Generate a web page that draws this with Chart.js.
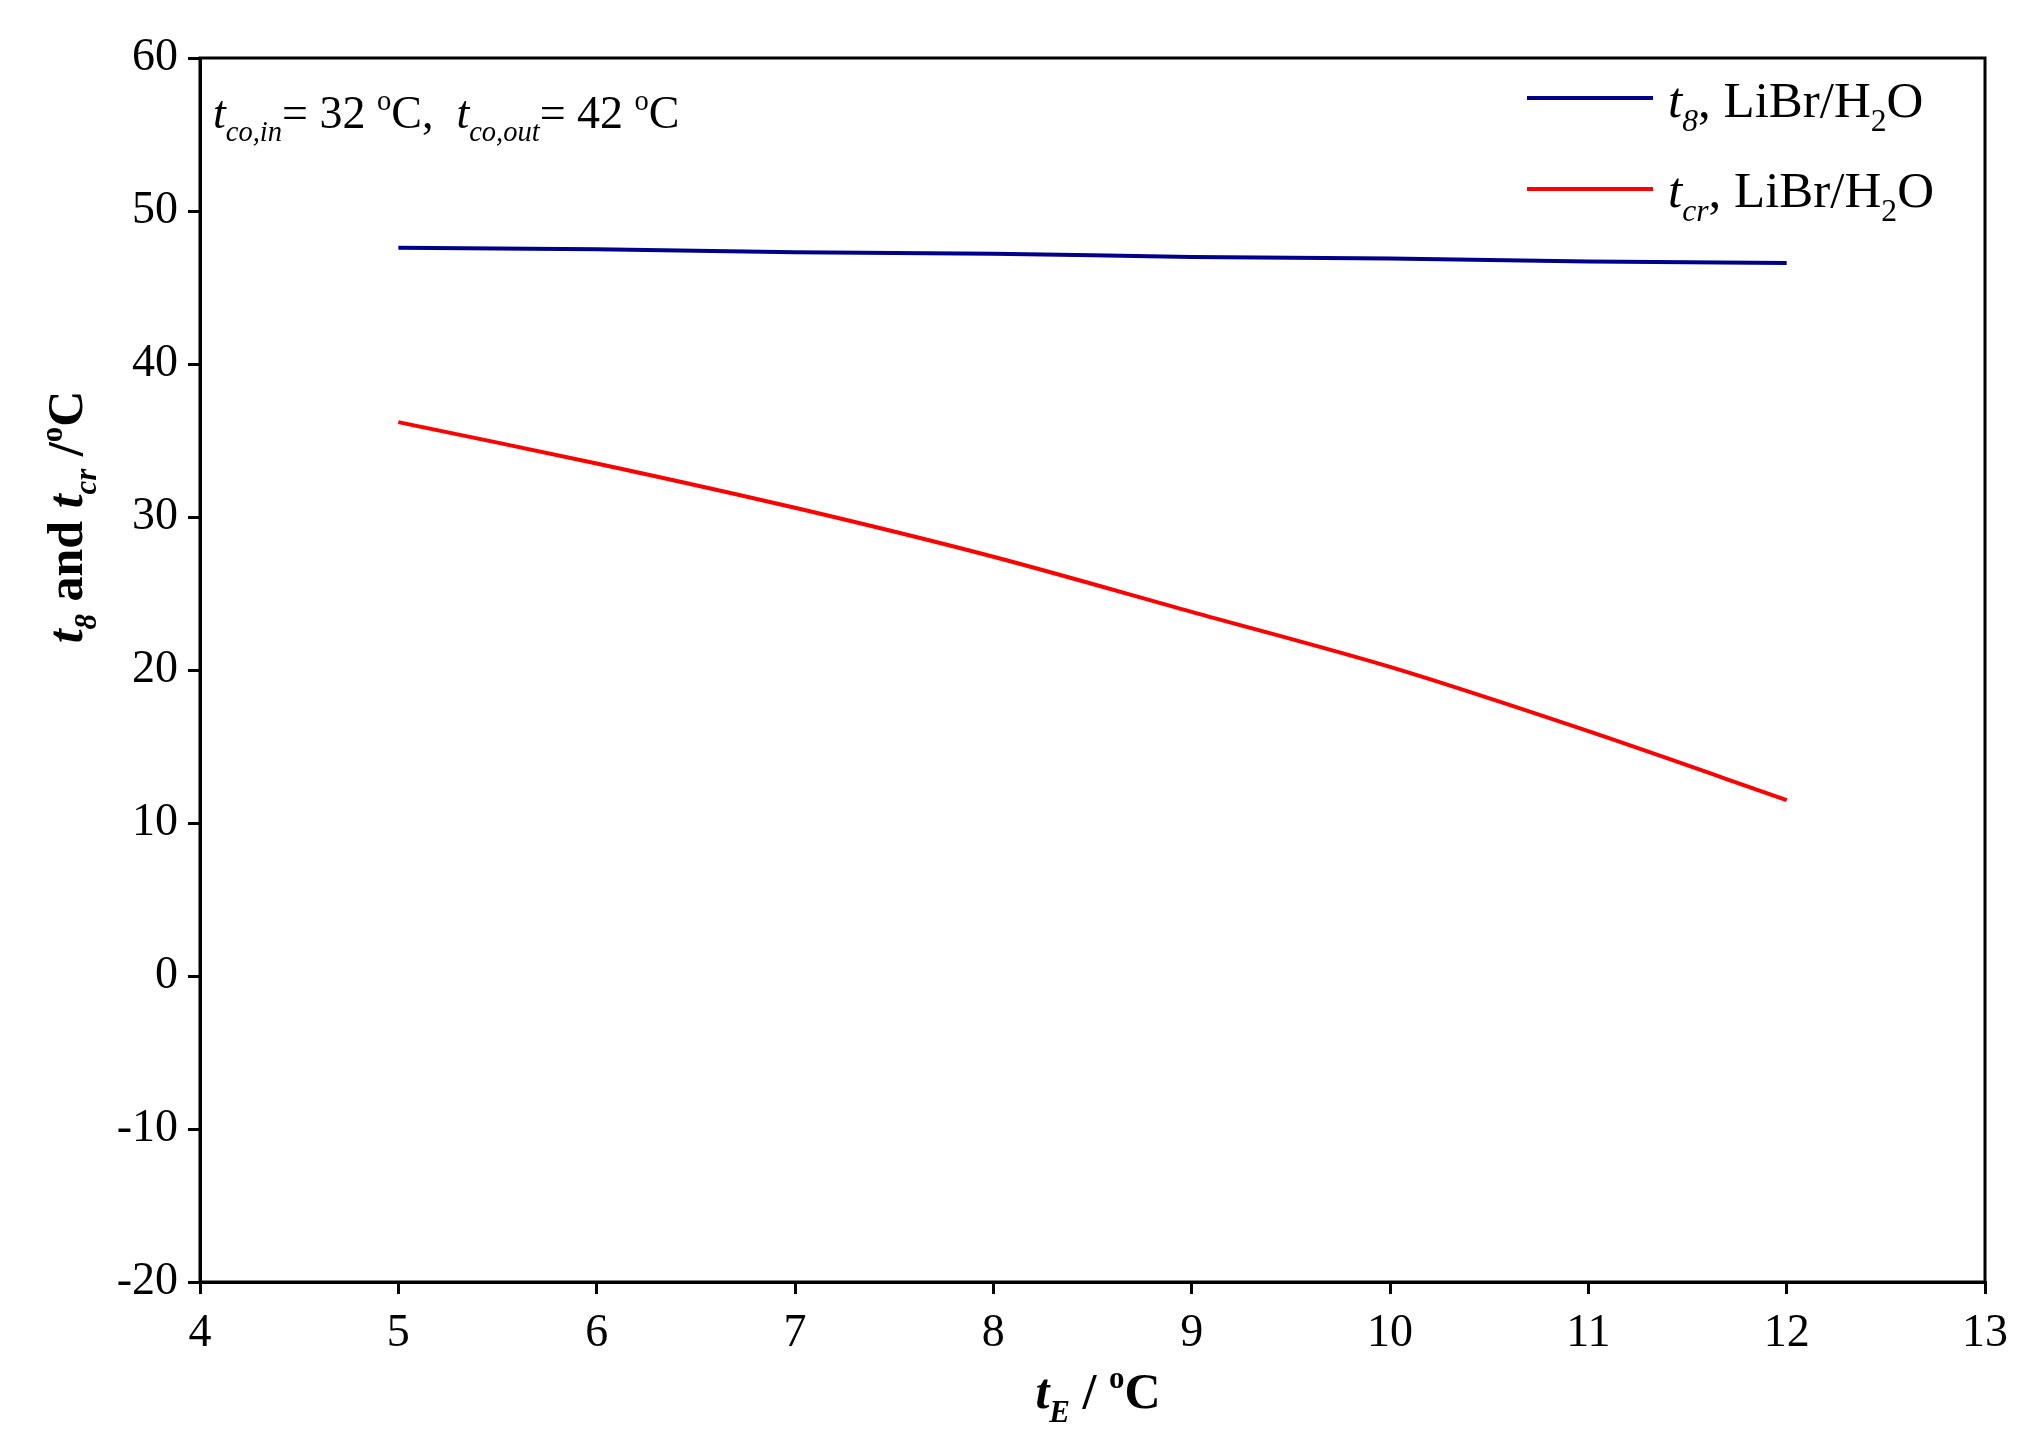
<!DOCTYPE html>
<html><head><meta charset="utf-8">
<script src="https://cdn.jsdelivr.net/npm/chart.js@4/dist/chart.umd.min.js"></script>
<style>body{margin:0;background:#fff}</style>
</head><body>
<canvas id="c" width="2025" height="1452"></canvas>
<script>
const tE = [5, 6, 7, 8, 9, 10, 11, 12];
const t8 = [47.6, 47.5, 47.3, 47.2, 47.0, 46.9, 46.7, 46.6];
const tcr = [36.2, 33.5, 30.6, 27.4, 23.8, 20.2, 16.0, 11.5];

const FONT = '"Liberation Serif", "Times New Roman", serif';

// draws a run of text pieces: [text, kind, italic, bold]
function rich(ctx, x, y, parts, size) {
    parts.forEach(p => {
        let s = size, dy = 0;
        if (p[1] === 'sub') { s = size * 0.62; dy = size * 0.28; }
        if (p[1] === 'sup') { s = size * 0.62; dy = -size * 0.4; }
        ctx.font = (p[2] ? 'italic ' : '') + (p[3] ? 'bold ' : '') + s + 'px ' + FONT;
        ctx.fillText(p[0], x, y + dy);
        x += ctx.measureText(p[0]).width;
    });
    return x;
}
function richWidth(ctx, parts, size) {
    let w = 0;
    parts.forEach(p => {
        let s = (p[1] === 'n') ? size : size * 0.62;
        ctx.font = (p[2] ? 'italic ' : '') + (p[3] ? 'bold ' : '') + s + 'px ' + FONT;
        w += ctx.measureText(p[0]).width;
    });
    return w;
}

const extras = {
    id: 'extras',
    afterDraw(chart) {
        const ctx = chart.ctx, a = chart.chartArea;
        ctx.save();
        ctx.strokeStyle = '#000';
        ctx.lineWidth = 3;
        ctx.strokeRect(a.left, a.top, a.right - a.left, a.bottom - a.top);
        ctx.fillStyle = '#000';
        ctx.textBaseline = 'alphabetic';

        rich(ctx, 213, 128, [['t','n',true],['co,in','sub',true],['= 32 ','n'],['o','sup'],['C,  ','n'],
            ['t','n',true],['co,out','sub',true],['= 42 ','n'],['o','sup'],['C','n']], 46);

        ctx.lineWidth = 4;
        ctx.strokeStyle = '#00008b';
        ctx.beginPath(); ctx.moveTo(1527, 98); ctx.lineTo(1653, 98); ctx.stroke();
        rich(ctx, 1668, 117, [['t','n',true],['8','sub',true],[', LiBr/H','n'],['2','sub'],['O','n']], 51);
        ctx.strokeStyle = '#ff0000';
        ctx.beginPath(); ctx.moveTo(1527, 189); ctx.lineTo(1653, 189); ctx.stroke();
        rich(ctx, 1668, 207, [['t','n',true],['cr','sub',true],[', LiBr/H','n'],['2','sub'],['O','n']], 51);

        const xt = [['t','n',true,true],['E','sub',true,true],[' / ','n',false,true],['o','sup',false,true],['C','n',false,true]];
        rich(ctx, 1098 - richWidth(ctx, xt, 50) / 2, 1408, xt, 50);

        const yt = [['t','n',true,true],['8','sub',true,true],[' and ','n',false,true],['t','n',true,true],['cr','sub',true,true],[' /','n',false,true],['o','sup',false,true],['C','n',false,true]];
        ctx.translate(82, 517);
        ctx.rotate(-Math.PI / 2);
        rich(ctx, -richWidth(ctx, yt, 50) / 2, 0, yt, 50);
        ctx.restore();
    }
};

const tickFont = { family: FONT, size: 46 };
new Chart(document.getElementById('c'), {
    type: 'line',
    data: {
        datasets: [
            { data: tE.map((x, i) => ({ x: x, y: t8[i] })), borderColor: '#00008b', borderWidth: 4, pointRadius: 0, tension: 0.3 },
            { data: tE.map((x, i) => ({ x: x, y: tcr[i] })), borderColor: '#ff0000', borderWidth: 4, pointRadius: 0, tension: 0.3 }
        ]
    },
    options: {
        responsive: false,
        animation: false,
        layout: { padding: { top: 58, right: 40, left: 0, bottom: 0 } },
        plugins: { legend: { display: false }, tooltip: { enabled: false } },
        scales: {
            x: {
                type: 'linear', min: 4, max: 13,
                ticks: { stepSize: 1, color: '#000', font: tickFont, maxRotation: 0, padding: 12 },
                grid: { drawOnChartArea: false, tickLength: 12, color: '#000', lineWidth: 3 },
                border: { color: '#000', width: 3 },
                afterFit(s) { s.height = 170; }
            },
            y: {
                min: -20, max: 60,
                ticks: { stepSize: 10, color: '#000', font: tickFont, padding: 10 },
                grid: { drawOnChartArea: false, tickLength: 12, color: '#000', lineWidth: 3 },
                border: { color: '#000', width: 3 },
                afterFit(s) { s.width = 200; }
            }
        }
    },
    plugins: [extras]
});
</script>
</body></html>
